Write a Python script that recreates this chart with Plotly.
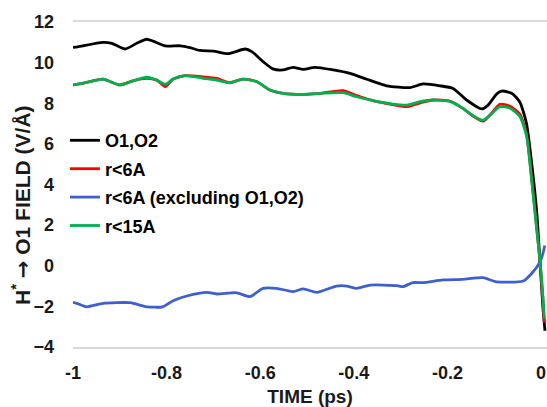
import plotly.graph_objects as go

# ---- data ----
t_o1o2 = [-1.0, -0.99, -0.936, -0.917, -0.889, -0.864, -0.843, -0.829, -0.803, -0.771,
          -0.75, -0.729, -0.70, -0.669, -0.632, -0.618, -0.594, -0.573, -0.551, -0.530,
          -0.508, -0.483, -0.444, -0.408, -0.372, -0.330, -0.28, -0.252, -0.216, -0.188,
          -0.159, -0.127, -0.113, -0.095, -0.084, -0.07, -0.06, -0.045, -0.031, -0.02,
          -0.009, -0.002, 0.004, 0.0085]
v_o1o2 = [10.75, 10.78, 11.0, 10.95, 10.67, 10.95, 11.15, 11.06, 10.82, 10.83,
          10.74, 10.6, 10.57, 10.44, 10.67, 10.54, 10.05, 9.69, 9.64, 9.77,
          9.67, 9.77, 9.64, 9.47, 9.18, 8.86, 8.77, 8.95, 8.86, 8.73,
          8.16, 7.72, 7.91, 8.45, 8.6, 8.55, 8.45, 8.05, 7.0, 5.06,
          2.6, 0.13, -2.03, -3.2]

t_r6 = [-1.0, -0.992, -0.964, -0.936, -0.900, -0.872, -0.843, -0.821, -0.803, -0.786,
        -0.761, -0.722, -0.693, -0.665, -0.637, -0.607, -0.579, -0.551, -0.508, -0.472,
        -0.423, -0.394, -0.359, -0.316, -0.287, -0.258, -0.231, -0.194, -0.167, -0.145,
        -0.124, -0.109, -0.088, -0.066, -0.045, -0.031, -0.02, -0.009, -0.002, 0.004, 0.007]
v_r6 = [8.9, 8.93, 9.06, 9.19, 8.9, 9.1, 9.22, 9.14, 8.82, 9.19,
        9.36, 9.3, 9.22, 9.01, 9.19, 9.06, 8.65, 8.49, 8.44, 8.49,
        8.62, 8.38, 8.13, 7.93, 7.83, 8.02, 8.16, 8.1, 7.75, 7.37,
        7.12, 7.42, 7.95, 7.85, 7.45, 6.5, 4.3, 1.8, 0.2, -1.6, -2.8]

t_r6_ex = [-1.0, -0.992, -0.971, -0.936, -0.878, -0.843, -0.808, -0.786, -0.757, -0.714,
           -0.693, -0.650, -0.622, -0.594, -0.565, -0.530, -0.508, -0.479, -0.437, -0.415,
           -0.394, -0.365, -0.308, -0.295, -0.274, -0.252, -0.209, -0.167, -0.124, -0.095,
           -0.038, -0.02, -0.002, 0.004, 0.008]
v_r6_ex = [-1.8, -1.85, -2.02, -1.85, -1.82, -2.02, -2.02, -1.72, -1.49, -1.31,
           -1.39, -1.33, -1.52, -1.11, -1.11, -1.27, -1.14, -1.31, -1.0, -1.0,
           -1.11, -0.95, -0.98, -1.03, -0.83, -0.83, -0.70, -0.67, -0.59, -0.79,
           -0.75, -0.38, 0.19, 0.6, 1.0]

t_r15 = [-1.0, -0.992, -0.964, -0.936, -0.900, -0.872, -0.843, -0.821, -0.803, -0.786,
         -0.761, -0.722, -0.693, -0.665, -0.637, -0.607, -0.579, -0.551, -0.508, -0.472,
         -0.423, -0.394, -0.359, -0.316, -0.287, -0.258, -0.231, -0.194, -0.167, -0.145,
         -0.124, -0.109, -0.088, -0.066, -0.045, -0.031, -0.02, -0.009, -0.002, 0.004, 0.007]
v_r15 = [8.9, 8.93, 9.06, 9.19, 8.9, 9.1, 9.28, 9.14, 8.93, 9.19,
         9.36, 9.23, 9.14, 9.01, 9.19, 9.06, 8.65, 8.49, 8.44, 8.49,
         8.52, 8.32, 8.13, 7.96, 7.91, 8.08, 8.16, 8.08, 7.75, 7.37,
         7.17, 7.42, 7.83, 7.75, 7.34, 6.4, 4.22, 1.76, 0.2, -1.5, -2.6]

series_names = ["O1,O2", "r<6A", "r<6A (excluding O1,O2)", "r<15A"]
x_ticks = [-1, -0.8, -0.6, -0.4, -0.2, 0]
x_tick_labels = ["-1", "-0.8", "-0.6", "-0.4", "-0.2", "0"]
y_ticks = [-4, -2, 0, 2, 4, 6, 8, 10, 12]
y_title = "H<sup>*</sup> <span style='font-family:DejaVu Sans'>→</span> O1 FIELD (V/Å)"
x_title = "TIME (ps)"

colors = ["#000000", "#ff0000", "#3d5fd0", "#00b050"]
xs = [t_o1o2, t_r6, t_r6_ex, t_r15]
ys = [v_o1o2, v_r6, v_r6_ex, v_r15]

fig = go.Figure()
for i in range(4):
    fig.add_trace(go.Scatter(
        x=xs[i], y=ys[i], mode="lines", name=series_names[i],
        legendgroup=f"g{i}",
        line=dict(color=colors[i], width=2.8, shape="spline", smoothing=0.6),
    ))

fig.update_layout(
    width=547, height=407,
    margin=dict(l=73, r=0, t=22, b=60, autoexpand=False),
    paper_bgcolor="white", plot_bgcolor="white",
    font=dict(family="Liberation Sans, Arial, sans-serif", size=18, color="#1a1a1a", weight="bold"),
    showlegend=True,
    legend=dict(
        x=-0.017, y=0.692, xanchor="left", yanchor="top",
        bgcolor="rgba(0,0,0,0)", borderwidth=0,
        font=dict(size=18, color="#000000", weight="bold"),
        tracegroupgap=2, itemwidth=30,
    ),
    xaxis=dict(
        range=[-1, 0.0128], tickvals=x_ticks, ticktext=x_tick_labels,
        showgrid=False, zeroline=False, showline=True, mirror=True, automargin=False,
        linecolor="#d9d9d9", linewidth=1.5, ticks="", ticklabelstandoff=9,
        tickfont=dict(size=18),
        title=dict(text=x_title, standoff=8, font=dict(size=19, weight="bold")),
    ),
    yaxis=dict(
        range=[-4, 12], tickvals=y_ticks, showgrid=False, zeroline=False, automargin=False,
        showline=False, ticks="", ticklabelstandoff=18, tickfont=dict(size=18),
    ),
    annotations=[dict(
        text=y_title, xref="paper", yref="paper", x=-0.1076, y=0.437,
        xanchor="center", yanchor="middle", textangle=-90, showarrow=False,
        font=dict(size=21, weight="bold", color="#1a1a1a"),
    )],
)

fig.write_html("out.html",
               config={"displayModeBar": False},
               post_script="document.body.style.margin='0';document.body.style.overflow='hidden';")
